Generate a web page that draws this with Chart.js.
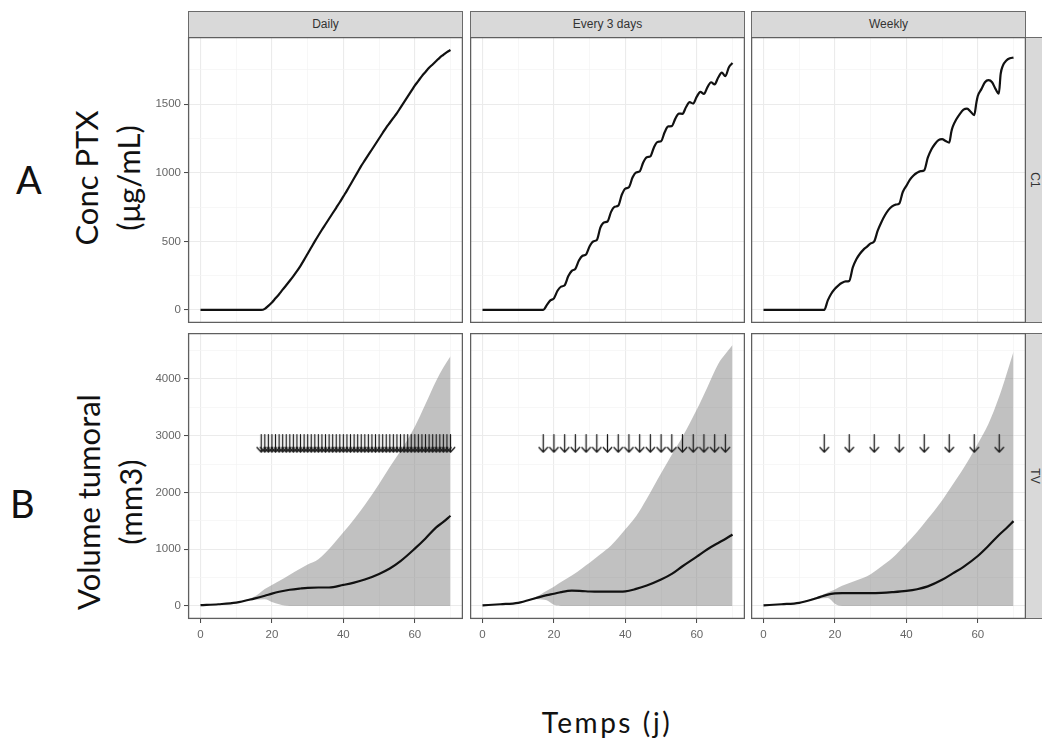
<!DOCTYPE html>
<html>
<head>
<meta charset="utf-8">
<script src="https://cdn.jsdelivr.net/npm/chart.js@4.4.1/dist/chart.umd.min.js"></script>
<style>
  html, body { margin: 0; padding: 0; background: #fff; }
  body { width: 1042px; height: 740px; position: relative; overflow: hidden; font-family: "Liberation Sans", Arial, sans-serif; }
  canvas { position: absolute; }
  .strip { position: absolute; box-sizing: border-box; background: #d9d9d9; border: 1px solid #6b6b6b; color: #333; font-size: 12px; text-align: center; }
  .rlab { position: absolute; font-size: 12px; color: #333; transform: translate(-50%, -50%) rotate(90deg); white-space: nowrap; }
  .big { position: absolute; font-family: Lato, "Open Sans", sans-serif; color: #111; white-space: nowrap; }
  .ytitle { position: absolute; font-family: Lato, "Open Sans", sans-serif; color: #111; font-size: 31px; line-height: 42px; text-align: center; white-space: nowrap; transform: translate(-50%, -50%) rotate(-90deg); }
</style>
</head>
<body>
<div class="big" style="left:16px; top:156px; font-size:38px;">A</div>
<div class="big" style="left:10px; top:480px; font-size:38px;">B</div>
<div class="ytitle" style="left:107px; top:178px;">Conc PTX<br>(μg/mL)</div>
<div class="ytitle" style="left:109px; top:502px;">Volume tumoral<br>(mm3)</div>
<div class="big" style="left:607px; top:722px; font-size:28px; letter-spacing:2.5px; transform:translate(-50%,-50%);">Temps (j)</div>

<script>
// ---------------- DATA ----------------
const facets = ["Daily", "Every 3 days", "Weekly"];
const rowLabels = ["C1", "TV"];

// concentration time grid (days)
const tDays = [0,1,2,3,4,5,6,7,8,9,10,11,12,13,14,15,16,17,18,19,20,21,22,23,24,25,26,27,28,29,30,31,32,33,34,35,36,37,38,39,40,41,42,43,44,45,46,47,48,49,50,51,52,53,54,55,56,57,58,59,60,61,62,63,64,65,66,67,68,69,70];

const concDaily = [0,0,0,0,0,0,0,0,0,0,0,0,0,0,0,0,0,0,
  8,30,55,85,115,148,180,213,247,283,322,365,410,455,500,543,585,625,665,705,745,785,828,870,915,960,1005,
  1050,1090,1130,1170,1210,1250,1290,1330,1365,1400,1435,1475,1515,1555,1595,1635,1670,1705,1735,1765,1790,1815,1840,1860,1880,1895];

const concEvery3 = [0,0,0,0,0,0,0,0,0,0,0,0,0,0,0,0,0,0,
  35,70,85,140,170,180,245,285,300,360,395,405,465,500,510,600,638,645,715,752,760,840,885,895,965,1003,1010,
  1075,1113,1120,1185,1225,1230,1295,1338,1340,1395,1432,1430,1480,1515,1505,1555,1590,1575,1625,1660,1645,1695,1730,1705,1770,1800];

const tWeekly = [0,17,18,19,20,21,22,23,24, 25,26,27,28,29,30,31, 32,33,34,35,36,37,38, 39,40,41,42,43,44,45,
  46,47,48,49,50,51,52, 52.6,53,54,55,56,57,58,59, 59.6,60,61,62,63,64,65,65.9, 66.4,67,68,69,70];
const concWeekly = [0,0,70,120,155,180,198,208,212, 310,370,410,440,462,485,500, 580,640,690,730,755,768,775, 860,905,950,980,1000,1012,1018,
  1110,1170,1210,1238,1245,1232,1220, 1300,1336,1390,1430,1460,1468,1445,1420, 1510,1560,1610,1660,1675,1660,1610,1577, 1720,1780,1819,1835,1840];

// tumour volume time grid (days)
const tTV = [0,5,10,15,18,20,22,25,28,30,33,36,40,43,46,50,53,56,60,63,66,68,70];

const tvMedDaily = [15,30,58,130,180,218,250,285,308,320,325,325,370,410,465,565,660,790,1010,1190,1385,1480,1590];
const tvUpDaily  = [15,30,62,160,300,370,440,550,660,730,825,1005,1300,1530,1780,2150,2450,2730,3160,3560,3970,4200,4400];
const tvLoDaily  = [15,30,55,110,120,70,30,0,0,0,0,0,0,0,0,0,0,0,0,0,0,0,0];

const tvMedEvery3 = [10,30,55,140,190,215,245,270,262,255,252,252,258,300,360,465,565,700,870,1000,1110,1180,1260];
const tvUpEvery3  = [10,30,60,160,270,340,420,535,670,760,910,1065,1350,1580,1890,2340,2665,2980,3460,3860,4265,4440,4600];
const tvLoEvery3  = [10,30,55,120,100,20,0,0,0,0,0,0,0,0,0,0,0,0,0,0,0,0,0];

const tvMedWeekly = [10,30,55,140,200,220,225,225,225,225,230,242,265,295,345,460,575,690,880,1060,1255,1370,1495];
const tvUpWeekly  = [10,30,60,160,235,290,355,425,495,560,695,840,1095,1305,1535,1860,2140,2425,2860,3210,3690,4075,4480];
const tvLoWeekly  = [10,30,55,120,140,40,0,0,0,0,0,0,0,0,0,0,0,0,0,0,0,0,0];

// dosing days (arrows)
const dosesDaily = [17,18,19,20,21,22,23,24,25,26,27,28,29,30,31,32,33,34,35,36,37,38,39,40,41,42,43,44,45,46,47,48,49,50,51,52,53,54,55,56,57,58,59,60,61,62,63,64,65,66,67,68,69,70];
const dosesEvery3 = [17,20,23,26,29,32,35,38,41,44,47,50,53,56,59,62,65,68];
const dosesWeekly = [17,24,31,38,45,52,59,66];
const arrowLevel = [2860];

// axes
const xTicks = [0,10,20,30,40,50,60,70];
const xLabeled = [0,20,40,60];
const xRange = [-3.5, 73.5];
const concTicks = [0,250,500,750,1000,1250,1500,1750];
const concLabeled = [0,500,1000,1500];
const concRange = [-95, 1990];
const tvTicks = [0,500,1000,1500,2000,2500,3000,3500,4000,4500];
const tvLabeled = [0,1000,2000,3000,4000];
const tvRange = [-230, 4810];

// ---------------- LAYOUT ----------------
const PX = [188, 470, 751];
const PW = 275;
const PY = [37, 333];
const PH = 286;
const YW = 45, XH = 28;

function pts(t, v) { return t.map((x, i) => ({ x: x, y: v[i] })); }

// strips
facets.forEach((f, i) => {
  const d = document.createElement('div');
  d.className = 'strip';
  d.style.cssText = `left:${PX[i]}px; top:11px; width:${PW}px; height:27px; line-height:25px;`;
  d.textContent = f;
  document.body.appendChild(d);
});
rowLabels.forEach((r, j) => {
  const d = document.createElement('div');
  d.className = 'strip';
  d.style.cssText = `left:${PX[2] + PW - 1}px; top:${PY[j]}px; width:30px; height:${PH}px;`;
  document.body.appendChild(d);
  const s = document.createElement('div');
  s.className = 'rlab';
  s.style.left = '1035px';
  s.style.top = (PY[j] + PH / 2) + 'px';
  s.textContent = r;
  document.body.appendChild(s);
});

// arrow glyph used as point style
const arrowImg = document.createElement('canvas');
arrowImg.width = 11; arrowImg.height = 19;
(function () {
  const a = arrowImg.getContext('2d');
  a.strokeStyle = '#1a1a1a'; a.lineWidth = 1.3; a.lineCap = 'round';
  a.beginPath();
  a.moveTo(5.5, 0.7); a.lineTo(5.5, 18);
  a.moveTo(1.2, 13.2); a.lineTo(5.5, 18); a.lineTo(9.8, 13.2);
  a.stroke();
})();

const panelBorder = {
  id: 'panelBorder',
  afterDraw(chart) {
    const a = chart.chartArea, c = chart.ctx;
    c.save();
    c.strokeStyle = '#5f5f5f';
    c.lineWidth = 1.3;
    c.strokeRect(a.left + 0.6, a.top + 0.6, a.right - a.left - 1.2, a.bottom - a.top - 1.2);
    c.restore();
  }
};

function axis(range, ticks, labeled, show, size, horizontal) {
  return {
    type: 'linear',
    min: range[0], max: range[1],
    afterBuildTicks: s => { s.ticks = ticks.map(v => ({ value: v })); },
    afterFit: s => {
      if (horizontal) s.height = size; else s.width = size;
      s.paddingTop = 0; s.paddingBottom = 0; s.paddingLeft = 0; s.paddingRight = 0;
    },
    border: { display: false },
    grid: {
      color: c => labeled.includes(c.tick && c.tick.value) ? '#ebebeb' : '#f3f3f3',
      lineWidth: c => labeled.includes(c.tick && c.tick.value) ? 1.1 : 0.7,
      drawTicks: show,
      tickLength: 4,
      tickWidth: 1,
      tickColor: c => labeled.includes(c.tick && c.tick.value) ? '#444' : 'rgba(0,0,0,0)'
    },
    ticks: {
      display: show,
      autoSkip: false,
      maxRotation: 0,
      padding: horizontal ? 5 : 3,
      color: '#666',
      font: { family: '"Liberation Sans", Arial, sans-serif', size: 11.5 },
      callback: v => labeled.includes(v) ? String(v) : ''
    }
  };
}

function panel(col, row, datasets) {
  const showY = col === 0, showX = row === 1;
  const yw = showY ? YW : 0, xh = showX ? XH : 0;
  const cv = document.createElement('canvas');
  cv.width = PW + yw; cv.height = PH + xh;
  cv.style.left = (PX[col] - yw) + 'px';
  cv.style.top = PY[row] + 'px';
  cv.style.width = cv.width + 'px'; cv.style.height = cv.height + 'px';
  document.body.appendChild(cv);
  const yr = row === 0 ? concRange : tvRange;
  const yt = row === 0 ? concTicks : tvTicks;
  const yl = row === 0 ? concLabeled : tvLabeled;
  new Chart(cv, {
    type: 'line',
    data: { datasets },
    options: {
      responsive: false, animation: false, devicePixelRatio: 1,
      layout: { padding: 0, autoPadding: false },
      plugins: { legend: { display: false }, tooltip: { enabled: false } },
      elements: { point: { radius: 0 } },
      scales: {
        x: axis(xRange, xTicks, xLabeled, showX, xh, true),
        y: axis(yr, yt, yl, showY, yw, false)
      }
    },
    plugins: [panelBorder]
  });
}

function concSet(t, v) {
  return [{ data: pts(t, v), borderColor: '#111', borderWidth: 2.2, pointRadius: 0, tension: 0.4, cubicInterpolationMode: 'monotone', fill: false }];
}
function tvSet(med, up, lo, doses) {
  return [
    { data: pts(tTV, med), borderColor: '#111', borderWidth: 2.2, pointRadius: 0, tension: 0.4, cubicInterpolationMode: 'monotone', fill: false },
    { data: doses.map(d => ({ x: d, y: arrowLevel[0] })), showLine: false, pointStyle: arrowImg, pointRadius: 5, fill: false },
    { data: pts(tTV, lo), borderWidth: 0, borderColor: 'rgba(0,0,0,0)', pointRadius: 0, tension: 0.4, cubicInterpolationMode: 'monotone', fill: false },
    { data: pts(tTV, up), borderWidth: 0, borderColor: 'rgba(0,0,0,0)', pointRadius: 0, tension: 0.4, cubicInterpolationMode: 'monotone', fill: '-1', backgroundColor: 'rgba(125,125,125,0.48)' }
  ];
}

panel(0, 0, concSet(tDays, concDaily));
panel(1, 0, concSet(tDays, concEvery3));
panel(2, 0, concSet(tWeekly, concWeekly));
panel(0, 1, tvSet(tvMedDaily, tvUpDaily, tvLoDaily, dosesDaily));
panel(1, 1, tvSet(tvMedEvery3, tvUpEvery3, tvLoEvery3, dosesEvery3));
panel(2, 1, tvSet(tvMedWeekly, tvUpWeekly, tvLoWeekly, dosesWeekly));
</script>
</body>
</html>
